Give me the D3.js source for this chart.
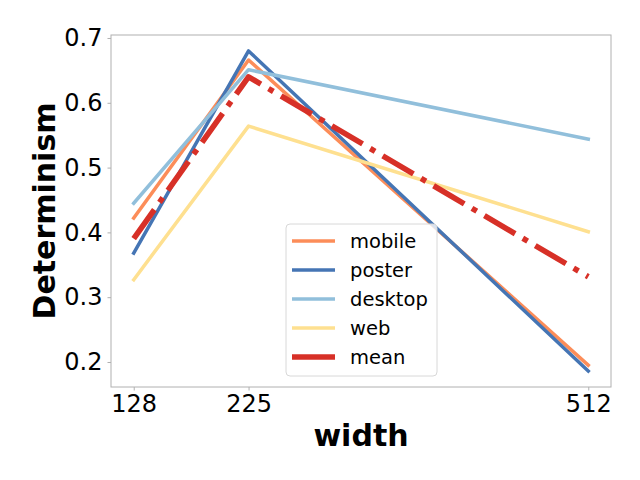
<!DOCTYPE html>
<html><head><meta charset="utf-8">
<script src="https://cdn.jsdelivr.net/npm/d3@7"></script>
<style>body{margin:0;background:#fff}svg{display:block;font-family:"DejaVu Sans",sans-serif}</style>
</head><body><svg id="c" width="640" height="480"></svg>
<script>
const widths = [128, 225, 512];
const seriesNames = ["mobile", "poster", "desktop", "web", "mean"];
const mobile = [0.422, 0.666, 0.195];
const poster = [0.368, 0.680, 0.186];
const desktop = [0.445, 0.651, 0.544];
const web = [0.327, 0.564, 0.401];
const mean = [0.3905, 0.640, 0.3315];
const yTicks = [0.2, 0.3, 0.4, 0.5, 0.6, 0.7];
const colors = ["#fc8d59", "#4575b4", "#91bfdb", "#fee090", "#d73027"];
const seriesValues = [mobile, poster, desktop, web, mean];

const svg = d3.select("#c");
const L = 111, R = 611, T = 35, B = 387;
const x = d3.scaleLinear().domain([108.8, 531.2]).range([L, R]);
const y = d3.scaleLinear().domain([0.1614, 0.7046]).range([B, T]);

// frame
svg.append("rect").attr("x", L).attr("y", T).attr("width", R - L).attr("height", B - T)
  .attr("fill", "none").attr("stroke", "#b0b0b0").attr("stroke-width", 1);

const yAxis = d3.axisLeft(y).tickValues(yTicks).tickFormat(d3.format(".1f")).tickSize(3.5).tickPadding(5);
const gy = svg.append("g").attr("transform", `translate(${L},0)`).call(yAxis);
gy.select(".domain").remove();
gy.selectAll("line").attr("stroke", "#b0b0b0");
gy.selectAll("text").attr("font-size", 24).attr("fill", "#000").attr("font-family", "DejaVu Sans");

const xAxis = d3.axisBottom(x).tickValues(widths).tickFormat(d3.format("d")).tickSize(3.5).tickPadding(4);
const gx = svg.append("g").attr("transform", `translate(0,${B})`).call(xAxis);
gx.select(".domain").remove();
gx.selectAll("line").attr("stroke", "#b0b0b0");
gx.selectAll("text").attr("font-size", 24).attr("fill", "#000").attr("font-family", "DejaVu Sans");

const clip = svg.append("clipPath").attr("id", "clp").append("rect")
  .attr("x", L).attr("y", T).attr("width", R - L).attr("height", B - T);

const line = d3.line().x((d, i) => x(widths[i])).y(d => y(d));
const plot = svg.append("g").attr("clip-path", "url(#clp)");
seriesValues.forEach((vals, k) => {
  const isMean = seriesNames[k] === "mean";
  plot.append("path").datum(vals).attr("d", line)
    .attr("fill", "none").attr("stroke", colors[k])
    .attr("stroke-width", isMean ? 5.6 : 3.5)
    .attr("stroke-linejoin", "round")
    .attr("stroke-linecap", isMean ? "butt" : "square")
    .attr("stroke-dasharray", isMean ? "35.6,8.9,5.6,8.9" : null);
});

// labels
svg.append("text").attr("x", (L + R) / 2).attr("y", 446).attr("text-anchor", "middle")
  .attr("font-size", 30).attr("font-weight", "bold").text("width");
svg.append("text").attr("transform", `translate(55,${(T + B) / 2}) rotate(-90)`).attr("text-anchor", "middle")
  .attr("font-size", 30).attr("font-weight", "bold").text("Determinism");

// legend
const lg = svg.append("g");
lg.append("rect").attr("x", 286).attr("y", 224).attr("width", 151).attr("height", 152).attr("rx", 4)
  .attr("fill", "rgba(255,255,255,0.8)").attr("stroke", "#d8d8d8").attr("stroke-width", 1);
seriesNames.forEach((n, k) => {
  const yy = 241 + k * 29;
  lg.append("line").attr("x1", 292).attr("x2", 335).attr("y1", yy).attr("y2", yy)
    .attr("stroke", colors[k]).attr("stroke-width", n === "mean" ? 5.6 : 3.5);
  lg.append("text").attr("x", 350).attr("y", yy + 7).attr("font-size", 19.5).attr("fill", "#000").text(n);
});
</script></body></html>
